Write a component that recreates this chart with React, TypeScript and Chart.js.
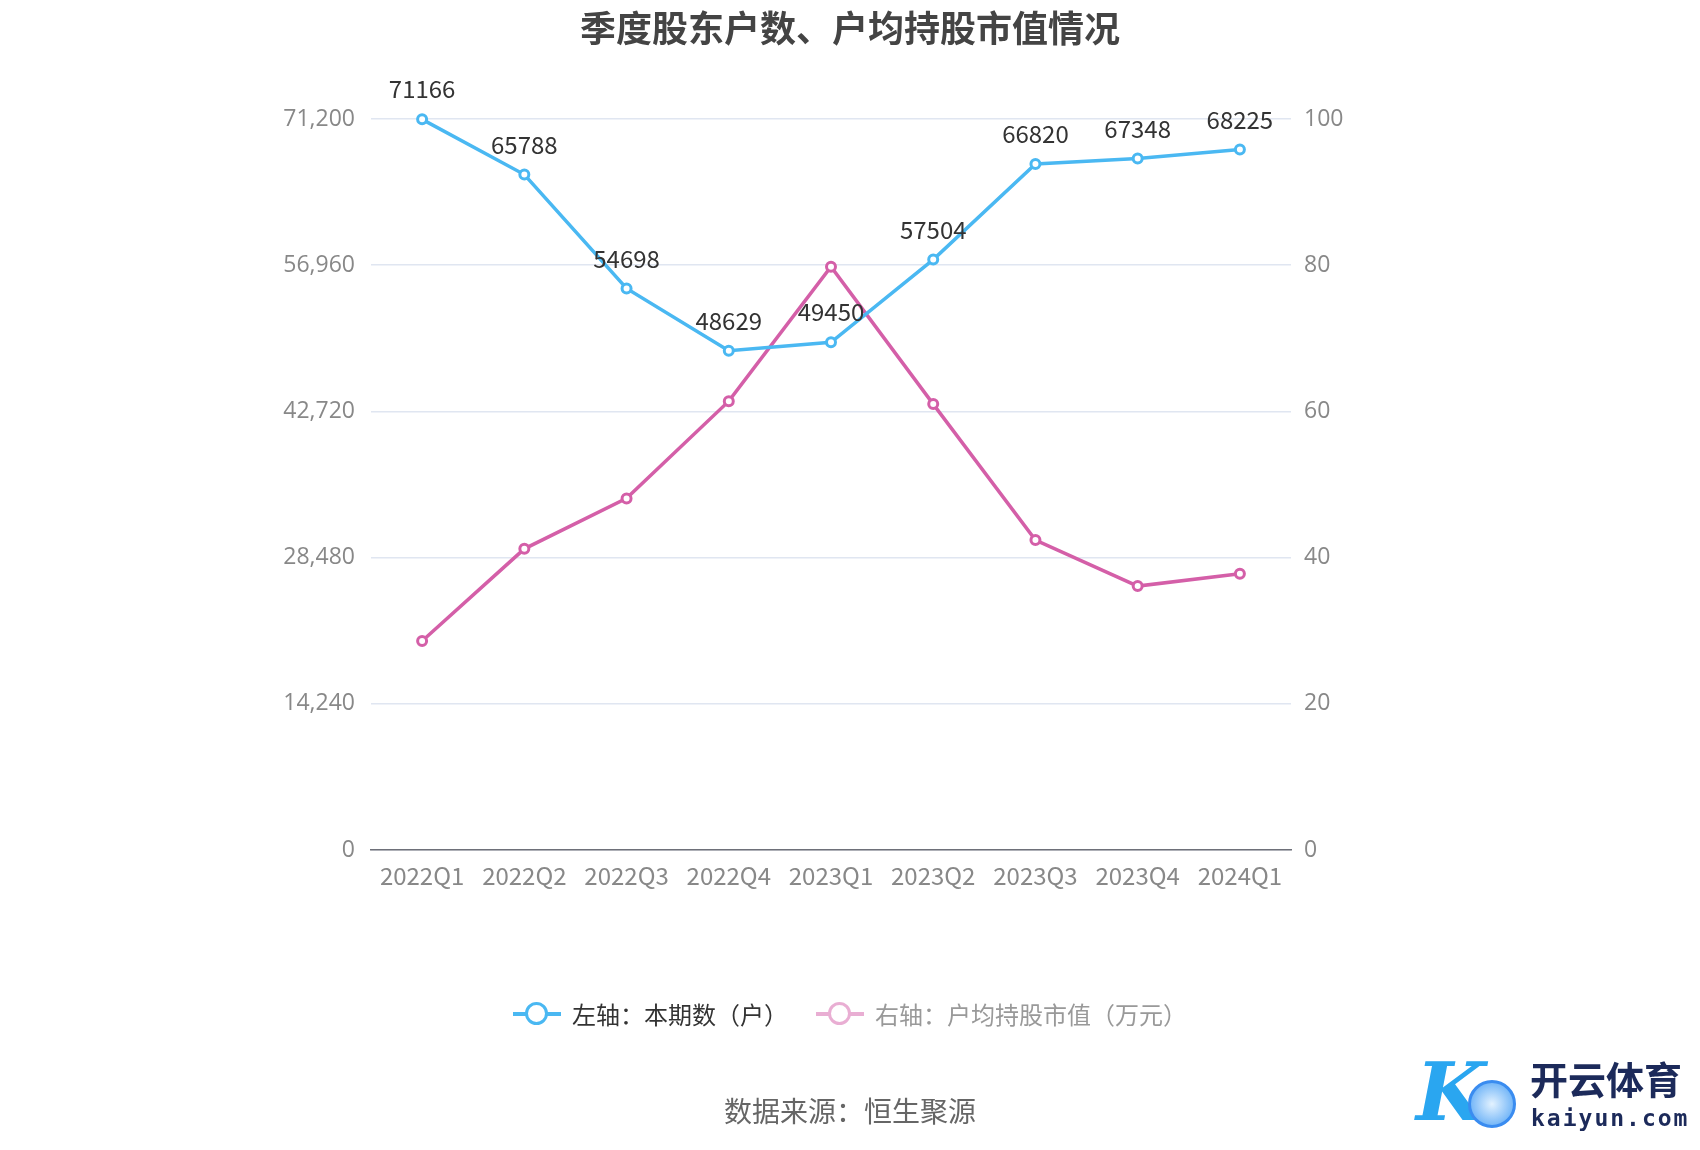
import React, { useEffect, useRef } from "react";
import { Chart, registerables } from "chart.js";

Chart.register(...registerables);

const categories = ["2022Q1", "2022Q2", "2022Q3", "2022Q4", "2023Q1", "2023Q2", "2023Q3", "2023Q4", "2024Q1"];
const holders = [71166, 65788, 54698, 48629, 49450, 57504, 66820, 67348, 68225];
const avgValue = [28.6, 41.2, 48.1, 61.4, 79.8, 61.0, 42.4, 36.1, 37.8];
const leftTicks = [0, 14240, 28480, 42720, 56960, 71200];
const rightTicks = [0, 20, 40, 60, 80, 100];

const BLUE = "#4AB8F2";
const PINK = "#D45FA8";
const FONT = "'Noto Sans CJK SC', 'Noto Sans', sans-serif";
const TICKFONT = "'Open Sans', 'Noto Sans', sans-serif";

const labelPlugin = {
  id: "valueLabels",
  afterDatasetsDraw(chart: any) {
    const ctx = chart.ctx;
    const meta = chart.getDatasetMeta(0);
    ctx.save();
    ctx.font = `24px ${FONT}`;
    ctx.fillStyle = "#333";
    ctx.textAlign = "center";
    ctx.textBaseline = "middle";
    meta.data.forEach((pt: any, i: number) => {
      ctx.fillText(String(holders[i]), pt.x, pt.y - 30);
    });
    ctx.restore();
  },
};

export default function App() {
  const ref = useRef<HTMLCanvasElement | null>(null);
  useEffect(() => {
    if (!ref.current) return;
    const chart = new Chart(ref.current, {
      type: "line",
      data: {
        labels: categories,
        datasets: [
          {
            label: "左轴：本期数（户）",
            data: holders,
            yAxisID: "y",
            borderColor: BLUE,
            backgroundColor: "#fff",
            borderWidth: 3.5,
            pointRadius: 4.5,
            pointBorderWidth: 3,
            pointBorderColor: BLUE,
            pointBackgroundColor: "#fff",
            clip: false as any,
            tension: 0,
          },
          {
            label: "右轴：户均持股市值（万元）",
            data: avgValue,
            yAxisID: "y1",
            borderColor: PINK,
            backgroundColor: "#fff",
            borderWidth: 3.5,
            pointRadius: 4.5,
            pointBorderWidth: 3,
            pointBorderColor: PINK,
            pointBackgroundColor: "#fff",
            clip: false as any,
            tension: 0,
          },
        ],
      },
      options: {
        animation: false,
        responsive: false,
        maintainAspectRatio: false,
        layout: { padding: { left: 271, right: 309, top: 119, bottom: 240 } },
        plugins: {
          legend: { display: false },
          tooltip: { enabled: false },
          title: { display: false },
        },
        scales: {
          x: {
            offset: true,
            grid: { display: false, drawTicks: true, tickLength: 7, color: "#6E7079" } as any,
            border: { color: "#6E7079", width: 1.5 },
            ticks: { color: "#888", font: { family: FONT, size: 24 }, padding: 4, maxRotation: 0, autoSkip: false },
            afterFit(scale: any) { scale.height = 60; },
          },
          y: {
            position: "left",
            min: 0,
            max: 71200,
            afterBuildTicks(scale: any) { scale.ticks = leftTicks.map((v) => ({ value: v })); },
            grid: { color: "#E0E6F1", lineWidth: 1.5, drawTicks: false },
            border: { display: false },
            ticks: {
              color: "#888",
              font: { family: TICKFONT, size: 23 },
              padding: 16,
              callback: (v: any) => Number(v).toLocaleString("en-US"),
            },
            afterFit(scale: any) { scale.width = 100; },
          },
          y1: {
            position: "right",
            min: 0,
            max: 100,
            afterBuildTicks(scale: any) { scale.ticks = rightTicks.map((v) => ({ value: v })); },
            grid: { display: false, drawTicks: false },
            border: { display: false },
            ticks: { color: "#888", font: { family: TICKFONT, size: 23 }, padding: 13 },
            afterFit(scale: any) { scale.width = 100; },
          },
        },
      },
      plugins: [labelPlugin],
    });
    return () => chart.destroy();
  }, []);

  const legendIcon = (color: string, faded: boolean) => (
    <span style={{ position: "relative", display: "inline-block", width: 48, height: 26, marginRight: 11, opacity: faded ? 0.5 : 1 }}>
      <span style={{ position: "absolute", left: 0, right: 0, top: 11, height: 4, background: color }} />
      <span style={{ position: "absolute", left: 12, top: 1, width: 17, height: 17, borderRadius: "50%", border: `3.5px solid ${color}`, background: "#fff" }} />
    </span>
  );

  return (
    <div style={{ position: "absolute", left: 0, top: 0, width: 1700, height: 1150, background: "#fff", fontFamily: FONT }}>
      <canvas ref={ref} width={1700} height={1150} style={{ position: "absolute", left: 0, top: 0, width: 1700, height: 1150 }} />
      <div style={{ position: "absolute", left: 0, width: 1700, top: 0, textAlign: "center", fontSize: 36, fontWeight: 700, color: "#444" }}>
        季度股东户数、户均持股市值情况
      </div>
      <div style={{ position: "absolute", left: 0, width: 1700, top: 996, display: "flex", justifyContent: "center", alignItems: "center", fontSize: 24 }}>
        <span style={{ display: "flex", alignItems: "center", color: "#333", marginRight: 28 }}>
          {legendIcon(BLUE, false)}左轴：本期数（户）
        </span>
        <span style={{ display: "flex", alignItems: "center", color: "#999" }}>
          {legendIcon(PINK, true)}右轴：户均持股市值（万元）
        </span>
      </div>
      <div style={{ position: "absolute", left: 0, width: 1700, top: 1090, textAlign: "center", fontSize: 28, color: "#666" }}>
        数据来源：恒生聚源
      </div>
      <div style={{ position: "absolute", left: 1412, top: 1050, width: 285, height: 90 }}>
        <div style={{ position: "absolute", left: 4, top: 0, fontSize: 80, fontStyle: "italic", fontWeight: 700, lineHeight: "84px", color: "#2AA6F0", fontFamily: "'DejaVu Serif', serif" }}>K</div>
        <div style={{ position: "absolute", left: 56, top: 30, width: 42, height: 42, borderRadius: "50%", border: "3px solid #3A8CF0", background: "radial-gradient(circle, #e3f2ff, #4aa0f5)" }} />
        <div style={{ position: "absolute", left: 118, top: 6, fontSize: 38, fontWeight: 700, color: "#1C2A5A", lineHeight: "44px" }}>开云体育</div>
        <div style={{ position: "absolute", left: 119, top: 54, fontSize: 23, fontWeight: 700, color: "#1C2A5A", lineHeight: "28px", letterSpacing: 2, fontFamily: "'DejaVu Sans Mono', monospace" }}>kaiyun.com</div>
      </div>
    </div>
  );
}
